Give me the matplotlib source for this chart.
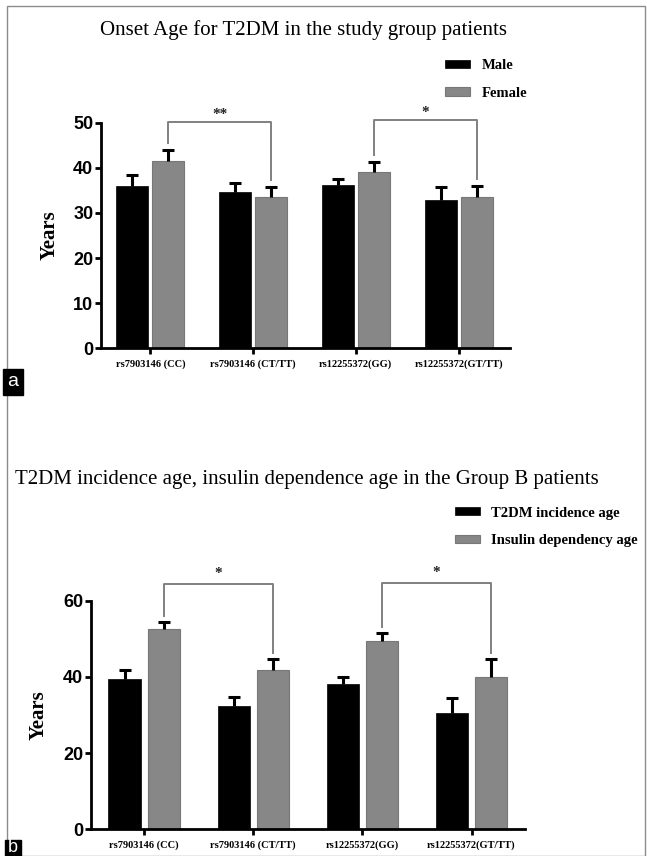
import matplotlib
matplotlib.use('Agg')
import matplotlib.pyplot as plt
import numpy as np
from matplotlib.patches import Rectangle

# ---------------- data ----------------
categories = ["rs7903146 (CC)", "rs7903146 (CT/TT)", "rs12255372(GG)", "rs12255372(GT/TT)"]

# Panel a: onset age by sex
male = [36.0, 34.7, 36.2, 32.9]
male_err = [2.3, 2.0, 1.3, 2.9]
female = [41.5, 33.5, 39.0, 33.6]
female_err = [2.5, 2.3, 2.2, 2.4]

# Panel b: Group B ages
t2dm_age = [39.5, 32.4, 38.1, 30.6]
t2dm_err = [2.3, 2.4, 1.8, 3.9]
insulin_age = [52.5, 41.8, 49.3, 39.9]
insulin_err = [2.0, 3.0, 2.1, 4.8]

sig_a = [(0, 1, "**"), (2, 3, "*")]
sig_b = [(0, 1, "*"), (2, 3, "*")]

title_a = "Onset Age for T2DM in the study group patients"
title_b = "T2DM incidence age, insulin dependence age in the Group B patients"
legend_a = ["Male", "Female"]
legend_b = ["T2DM incidence age", "Insulin dependency age"]

# ---------------- style ----------------
W, H = 647, 856
SERIF = ["Liberation Serif", "DejaVu Serif"]
SANS = ["Liberation Sans", "DejaVu Sans"]
BLACK = "#000000"
GRAY = "#878787"
BRACKET = "#808080"

fig = plt.figure(figsize=(W / 100, H / 100), dpi=100)


def fx(px):
    return px / W


def fy(py):
    return 1 - py / H


def panel(rect, s1, e1, s2, e2, ymax, yticks, sigs, level, names, leg_xy,
          width, off, xlim, star_dy):
    ax = fig.add_axes(rect)
    x = np.arange(len(categories))
    ax.bar(x - off, s1, width, color=BLACK, edgecolor=BLACK, linewidth=0.5, zorder=2, label=names[0])
    ax.bar(x + off, s2, width, color=GRAY, edgecolor="#777777", linewidth=0.8, zorder=2, label=names[1])
    for xs, v, e in ((x - off, s1, e1), (x + off, s2, e2)):
        _, caps, _ = ax.errorbar(xs, v, yerr=[np.zeros(len(e)), e], fmt="none", ecolor=BLACK,
                                 elinewidth=2.2, capsize=4.5, capthick=2.2, zorder=3)
        if len(caps) == 2:
            caps[0].set_visible(False)
    # significance brackets
    for (i, j, lab), lv in zip(sigs, level):
        yl = s2[i] + e2[i] + 1.6
        yr = s2[j] + e2[j] + 1.6
        ax.plot([i + off, i + off, j + off, j + off], [yl, lv, lv, yr],
                color=BRACKET, lw=1.4, clip_on=False, zorder=4)
        ax.text((i + j) / 2 + off, lv + star_dy, lab, ha="center", va="center",
                fontsize=11, family=SERIF, fontweight="bold", color="#222222")
    ax.set_xlim(*xlim)
    ax.set_ylim(0, ymax)
    ax.set_yticks(yticks)
    ax.set_xticks(x)
    ax.set_xticklabels(categories, family=SERIF, fontweight="bold", fontsize=7.5)
    for lbl in ax.get_yticklabels():
        lbl.set_family(SANS)
        lbl.set_fontweight("bold")
        lbl.set_fontsize(13)
    ax.spines["top"].set_visible(False)
    ax.spines["right"].set_visible(False)
    for sp in ("left", "bottom"):
        ax.spines[sp].set_linewidth(2.0)
    ax.tick_params(axis="y", length=4, width=2.0, pad=1.5)
    ax.tick_params(axis="x", length=4, width=2.0, pad=4)
    ax.set_ylabel("Years", family=SERIF, fontweight="bold", fontsize=15, labelpad=10)
    ax.legend(loc="upper left", bbox_to_anchor=leg_xy, bbox_transform=fig.transFigure,
              frameon=False, prop={"family": SERIF, "weight": "bold", "size": 10.5},
              handlelength=1.7, handleheight=0.5, labelspacing=1.0,
              handletextpad=0.8, borderpad=0, borderaxespad=0)
    return ax


# Panel a
panel([fx(101), fy(348.3), fx(510) - fx(101), (348.3 - 122.7) / H],
      male, male_err, female, female_err, 50, [0, 10, 20, 30, 40, 50],
      sig_a, [50.2, 50.5], legend_a, (fx(445), fy(59)),
      0.31, 0.175, (-0.48, 3.5), 1.7)

# Panel b
panel([fx(90.7), fy(829.3), fx(525) - fx(90.7), (829.3 - 600.7) / H],
      t2dm_age, t2dm_err, insulin_age, insulin_err, 60, [0, 20, 40, 60],
      sig_b, [64.4, 64.6], legend_b, (fx(455), fy(506.5)),
      0.295, 0.18, (-0.49, 3.49), 2.7)

# Titles
fig.text(fx(303), fy(30), title_a, ha="center", va="center", family=SERIF, fontsize=15)
fig.text(fx(307), fy(480), title_b, ha="center", va="center", family=SERIF, fontsize=15)

# Panel letters
fig.text(fx(13), fy(382), "a", ha="center", va="center", color="white",
         family=SANS, fontsize=14,
         bbox=dict(boxstyle="square,pad=0.22", fc="black", ec="black"))
fig.patches.append(Rectangle((fx(5), 0), fx(21) - fx(5), 1 - fy(16), transform=fig.transFigure,
                             fc="black", ec="black", zorder=5))
fig.text(fx(13), fy(847), "b", ha="center", va="center", color="white",
         family=SANS, fontsize=13, zorder=6)

# Outer frame
fig.patches.append(Rectangle((fx(7), 0), fx(645) - fx(7), fy(6), transform=fig.transFigure,
                             fill=False, ec="#8c8c8c", lw=1.0, zorder=0))

fig.savefig("out.png", dpi=100)
